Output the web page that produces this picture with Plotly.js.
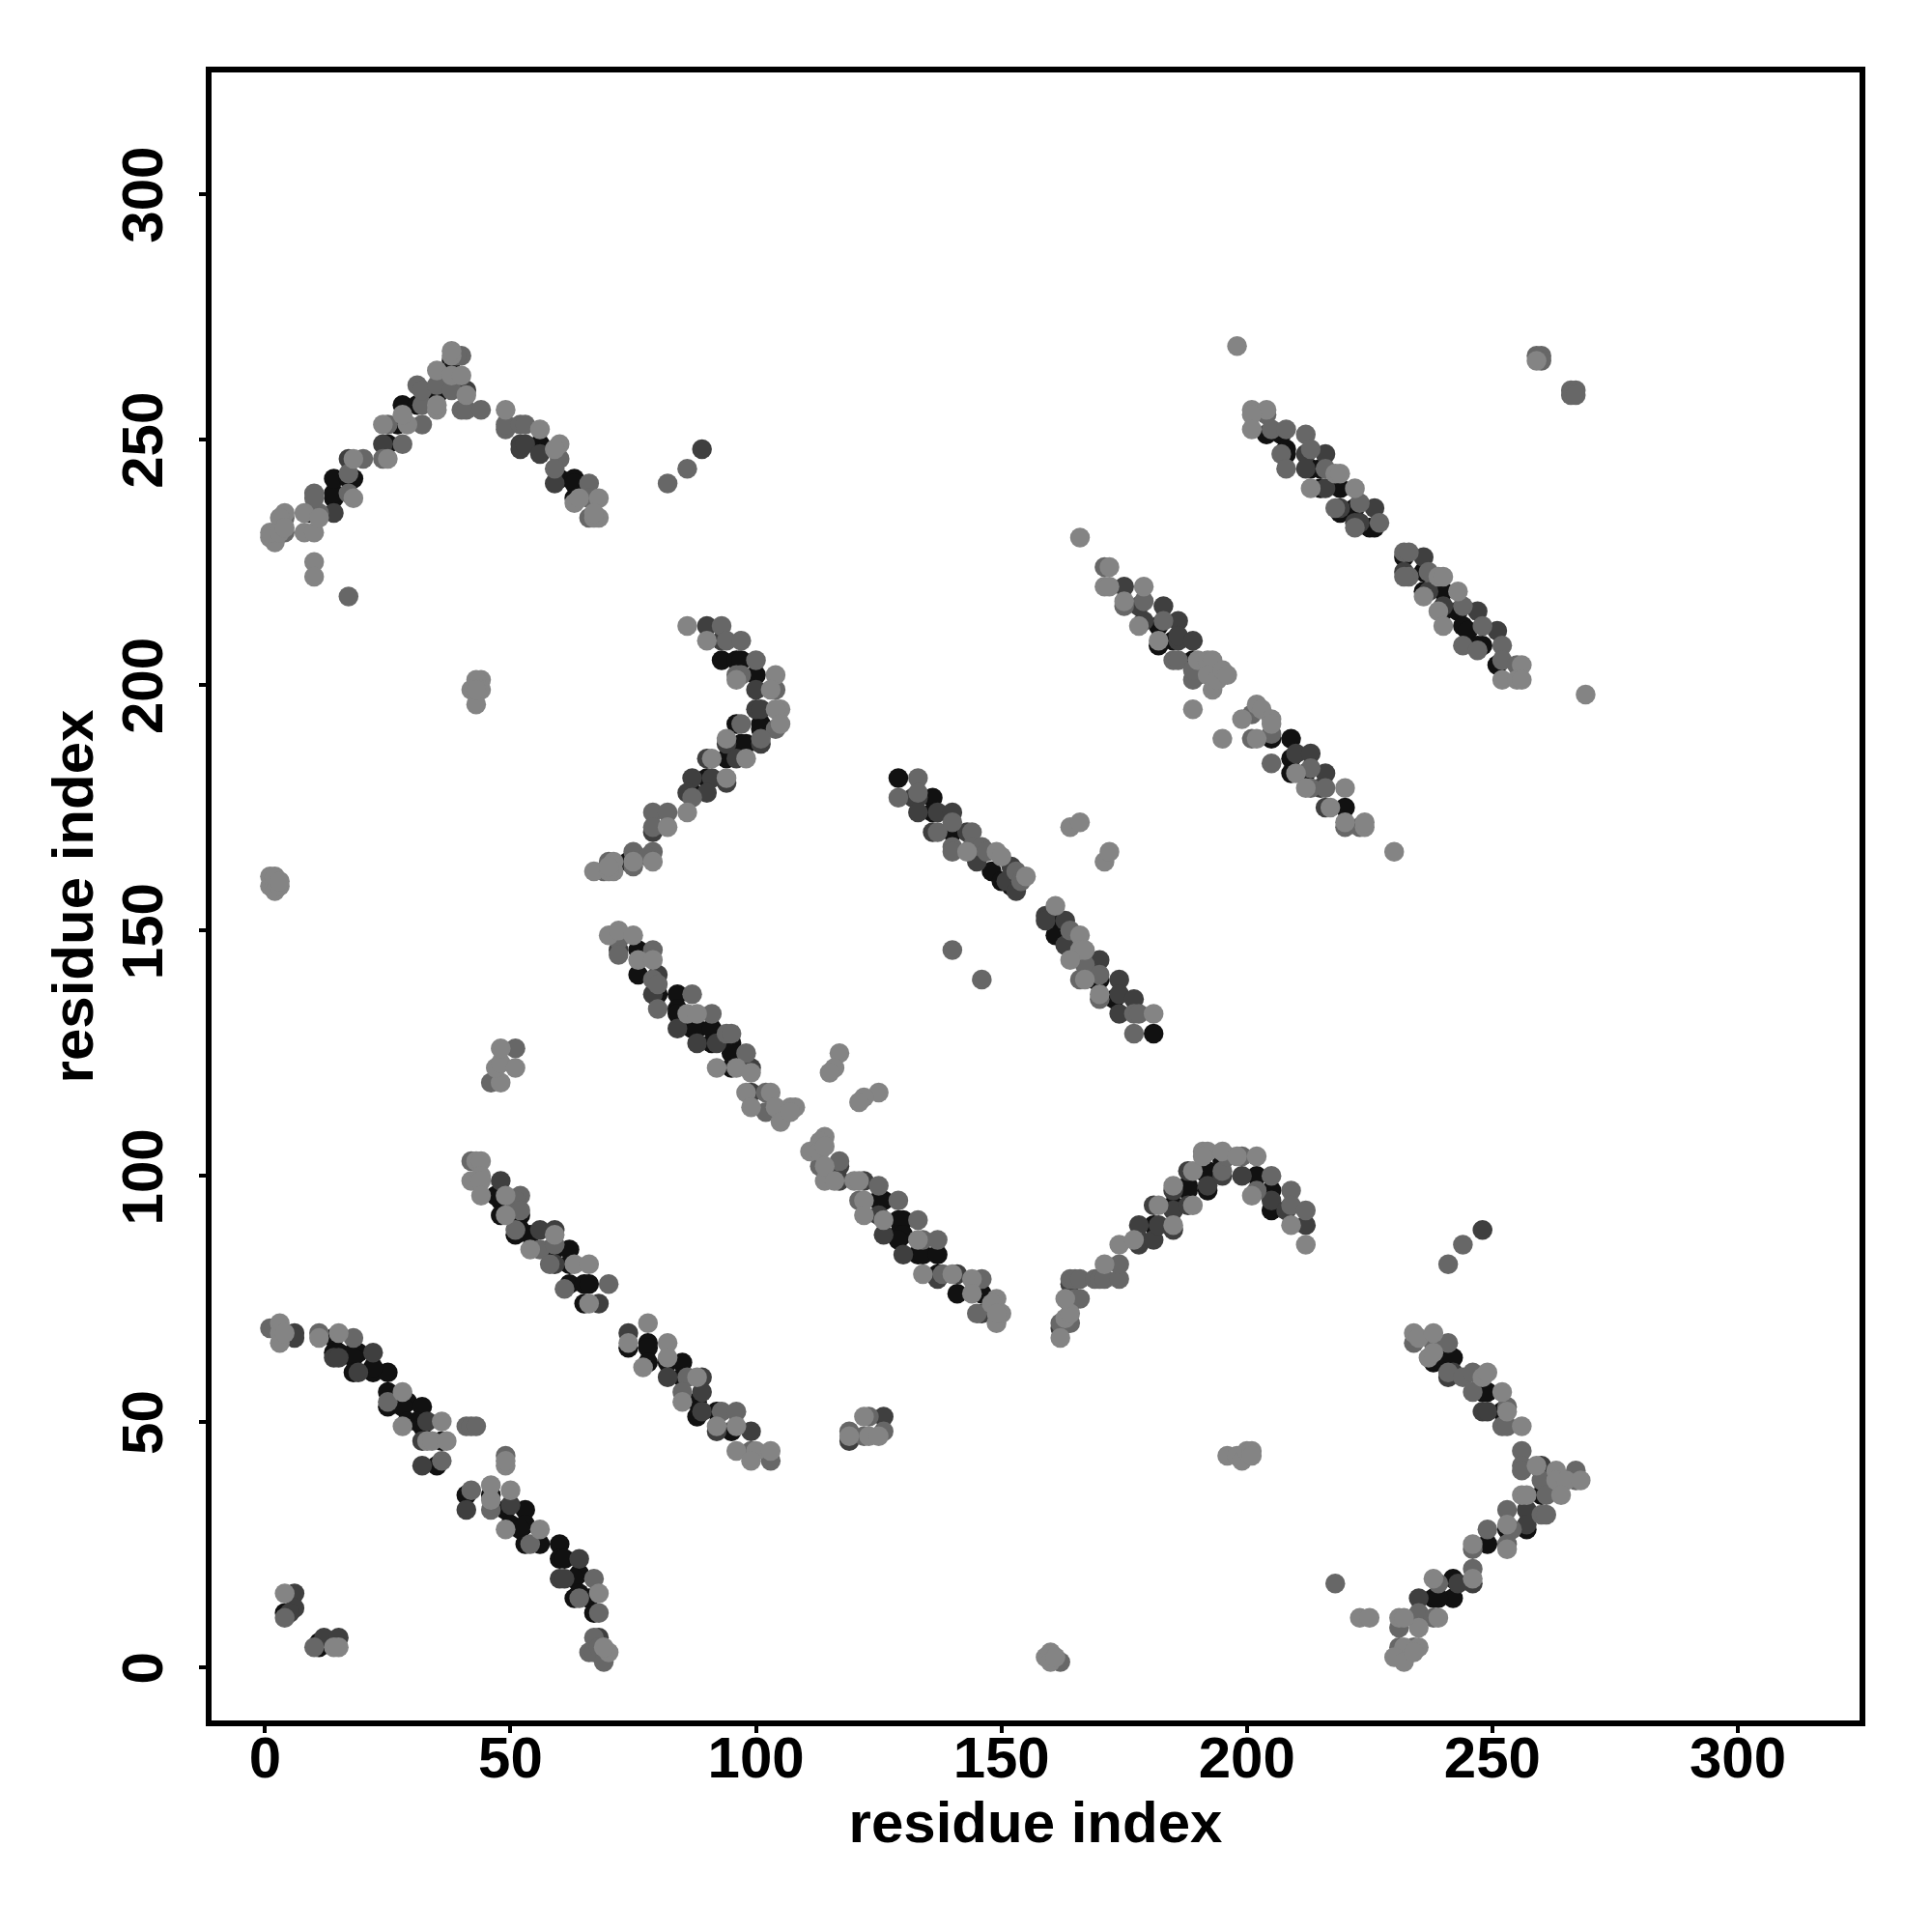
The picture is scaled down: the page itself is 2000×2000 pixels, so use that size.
<!DOCTYPE html>
<html>
<head>
<meta charset="utf-8">
<script src="https://cdn.plot.ly/plotly-3.0.1.min.js"></script>
<style>html,body{margin:0;padding:0;background:#fff}</style>
</head>
<body>
<div id="chart" style="width:2000px;height:2000px"></div>
<script>
// Each entry: [residue i, residue j, level], level 1 (darkest) .. 4 (lightest)
const arcTopLeft = [[1,230,4],[2,229,4],[2,231,4],[1,231,4],[4,235,4],[3,234,4],[4,234,3],[4,231,3],[3,231,4],[4,232,4],[8,235,4],[8,231,4],[10,231,4],[9,235,1],[11,235,3],[10,239,3],[10,238,3],[11,234,4],[14,235,2],[14,238,1],[14,239,1],[14,242,1],[17,242,1],[18,242,1],[18,238,4],[17,239,3],[17,243,3],[17,246,2],[18,246,4],[20,246,3],[10,225,4],[10,222,4],[17,218,3],[24,249,2],[25,249,1],[28,249,3],[24,246,3],[25,246,4],[24,253,4],[25,253,3],[28,257,1],[27,253,1],[29,253,4],[28,255,4],[32,253,3],[32,257,3],[31,257,1],[31,261,3],[32,260,3],[35,256,4],[35,257,4],[35,259,1],[35,261,3],[35,264,4],[38,260,3],[38,263,4],[38,266,1],[38,267,4],[38,268,4],[40,267,3],[39,267,3],[40,263,4],[41,260,2],[41,259,4],[40,256,3],[41,256,3],[44,256,3]];
const arcTopRight = [[49,256,4],[49,252,3],[49,253,3],[52,253,3],[53,253,3],[52,249,2],[52,248,2],[53,249,2],[56,252,4],[56,249,1],[56,247,2],[60,249,4],[59,248,4],[60,246,3],[59,244,3],[59,241,2],[60,242,1],[63,242,1],[63,241,1],[66,241,3],[63,238,1],[63,237,4],[64,238,4],[66,238,3],[68,238,4],[66,234,3],[68,234,4],[67,234,4],[67,235,4]];
const isolatedA = [[82,241,3],[86,244,3],[89,248,2],[44,201,4],[43,201,4],[42,199,4],[44,199,4],[43,196,4],[43,199,4],[1,161,4],[1,159,4],[2,160,4],[2,158,4],[3,159,4],[2,161,4],[3,160,4],[46,119,3],[48,119,4],[47,122,4],[48,123,4],[51,122,4],[48,126,4],[51,126,3]];
const bandLowLeft = [[1,69,3],[3,70,4],[3,68,4],[3,66,4],[4,68,4],[6,68,2],[6,67,2],[11,68,3],[11,67,4],[14,67,1],[15,68,4],[18,67,3],[14,64,1],[14,63,2],[15,64,1],[15,63,2],[18,64,1],[19,64,1],[22,64,2],[18,63,1],[18,60,1],[19,60,2],[22,60,1],[25,60,1],[22,61,1],[25,56,1],[25,53,1],[25,54,3],[28,56,4],[29,54,1],[28,53,1],[28,49,4],[29,50,1],[32,53,1],[31,50,1],[32,49,1],[33,50,2],[36,50,4],[32,46,2],[33,46,4],[34,46,4],[36,46,1],[37,46,4],[32,41,2],[35,41,1],[36,42,3],[41,49,3],[42,49,3],[43,49,3],[49,43,3],[49,41,4],[49,42,4],[41,35,1],[42,36,3],[41,32,2],[46,37,4],[46,35,1],[46,34,4],[46,32,3],[50,36,4],[50,33,2],[49,32,1],[53,32,1],[50,29,1],[49,28,4],[53,29,1],[52,28,1],[56,28,4],[53,25,1],[54,25,3],[56,25,1],[60,25,1],[60,22,1],[61,22,1],[64,22,2],[60,18,2],[61,18,2],[64,19,1],[63,18,1],[67,18,3],[64,15,1],[63,14,1],[68,15,4],[64,14,3],[66,14,1],[68,11,3],[67,11,1],[67,6,3],[68,6,2],[66,3,3],[67,3,3],[68,4,3],[69,1,3],[70,3,4],[69,4,4],[4,15,4],[6,15,2],[4,11,1],[6,12,2],[5,11,2],[4,10,3],[10,4,3],[11,4,1],[11,5,1],[12,6,2],[15,6,2],[14,4,4],[15,4,4]];
const bandMidLow = [[42,103,3],[43,103,4],[44,103,4],[42,99,4],[44,100,4],[44,99,4],[44,96,4],[48,99,2],[48,95,1],[47,96,1],[49,96,4],[52,96,3],[48,92,1],[49,92,4],[51,95,3],[52,93,3],[51,92,1],[52,92,1],[51,88,1],[51,89,3],[52,89,1],[54,88,1],[56,89,2],[59,89,2],[59,88,4],[54,85,4],[56,85,3],[58,85,1],[59,86,3],[59,85,1],[62,85,1],[59,82,2],[58,82,3],[62,82,1],[63,82,4],[66,82,4],[62,78,1],[61,77,3],[65,78,1],[66,78,1],[70,78,3],[65,74,1],[66,74,4],[68,74,2],[78,70,4],[74,68,2],[74,66,4],[74,65,1],[78,66,1],[78,65,1],[78,62,1],[77,61,4],[82,66,4],[82,63,4],[82,62,1],[85,62,1],[82,59,2],[85,59,1],[86,59,3],[88,59,4],[89,59,2],[85,56,3],[85,54,4],[89,56,2],[88,54,1],[89,52,2],[88,51,1],[92,52,1],[93,52,3],[96,52,3],[92,48,2],[92,49,4],[95,48,1],[96,49,4],[99,48,2],[96,44,4],[99,44,3],[100,44,4],[99,42,4],[103,44,4],[103,42,3]];
const isolatedB = [[119,48,3],[119,46,2],[119,47,4],[122,51,4],[122,47,3],[123,51,3],[123,47,4],[126,51,2],[126,48,3],[125,47,4],[140,146,3],[146,140,3],[117,125,4],[116,122,4],[115,121,4],[125,117,4],[122,116,4],[121,115,4]];
const arcCentreLeft = [[86,212,4],[90,212,2],[93,212,3],[90,209,4],[93,209,2],[94,209,3],[97,209,3],[93,205,1],[96,205,1],[97,205,1],[100,205,3],[96,202,3],[96,201,4],[97,202,3],[100,202,1],[100,199,2],[104,202,4],[103,199,4],[104,199,3],[100,195,2],[101,195,2],[105,195,4],[104,195,4],[105,192,4],[104,191,3],[101,192,1],[101,191,1],[101,189,3],[101,188,2],[96,192,1],[97,192,3],[94,189,4],[94,188,2],[97,188,1],[98,188,1],[94,185,1],[98,185,4],[96,185,2],[90,185,2],[91,185,4],[90,181,1],[91,181,2],[94,181,4],[94,180,2],[87,181,2],[86,178,2],[87,178,1],[90,178,2],[87,177,3],[79,174,3],[82,174,3],[86,174,4],[79,171,3],[79,170,2],[82,171,4],[75,166,3],[79,166,3],[78,165,3],[79,164,4],[74,164,1],[75,164,4],[75,163,3],[70,164,3],[71,164,4],[69,162,3],[67,162,4],[71,162,4],[70,162,4],[70,163,4]];
const bandCentre = [[70,149,4],[72,150,4],[72,148,3],[75,149,4],[72,146,2],[72,145,3],[76,146,1],[79,146,3],[76,144,4],[79,144,4],[76,141,1],[79,140,3],[80,141,2],[80,139,3],[79,137,2],[80,137,1],[80,134,3],[84,137,1],[87,137,3],[84,134,1],[84,133,1],[86,133,4],[88,133,4],[91,133,3],[84,130,2],[87,130,1],[88,130,1],[91,130,1],[94,129,3],[95,129,3],[88,127,2],[91,127,1],[92,127,2],[95,127,1],[95,125,1],[98,125,3],[92,122,4],[95,122,1],[96,122,4],[99,122,2],[99,121,4],[98,117,4],[99,117,2],[99,114,4],[102,117,3],[103,117,4],[102,113,3],[104,114,4],[105,111,4],[107,114,4],[108,114,4],[107,113,4],[114,108,4],[113,107,4],[111,105,4],[113,105,4],[114,106,4],[113,102,3],[117,103,3],[117,102,2],[114,99,4],[117,99,2],[114,102,4],[116,99,4],[120,99,4],[121,99,4],[122,99,2],[125,98,3],[122,95,4],[121,95,3],[126,95,1],[125,95,1],[129,95,3],[122,92,4],[125,92,2],[126,91,4],[129,91,1],[130,91,1],[133,91,3],[126,88,2],[129,88,1],[130,88,1],[129,87,1],[133,87,4],[134,87,3],[137,87,3],[130,84,2],[133,84,1],[134,84,1],[137,84,1],[134,80,4],[137,80,1],[138,80,3],[137,79,2],[140,80,4],[141,80,2],[141,76,1],[144,79,4],[146,79,3],[144,76,4],[146,76,1],[145,72,3],[146,72,2],[149,75,4],[148,74,4],[149,70,4],[150,72,4],[149,72,4]];
const bandUpperMid = [[129,181,1],[133,181,3],[129,177,3],[133,178,3],[132,177,2],[133,177,2],[136,177,1],[133,174,2],[136,174,1],[137,174,2],[140,174,2],[136,170,2],[137,170,3],[140,172,3],[140,170,1],[140,167,3],[140,166,3],[143,170,2],[144,170,3],[143,166,4],[144,167,3],[145,164,2],[146,167,3],[147,166,3],[149,166,4],[148,162,1],[150,165,4],[150,160,1],[152,163,2],[153,162,3],[151,160,2],[152,159,1],[153,158,2],[154,160,3],[155,161,4],[161,155,4],[159,153,2],[160,152,1],[163,152,2],[159,152,2],[161,149,1],[164,150,3],[166,149,4],[163,147,2],[166,146,4],[167,146,4],[164,144,4],[167,143,3],[170,144,2],[166,140,3],[167,140,4],[170,140,1],[169,140,1],[170,141,3],[174,140,2],[170,136,3],[170,137,4],[173,136,1],[174,137,2],[177,136,2],[174,133,2],[177,133,3],[178,133,3],[181,133,4],[177,129,3],[181,129,1]];
const isolatedC = [[164,171,4],[166,172,4],[171,164,4],[172,166,4],[189,195,4],[195,189,4],[166,230,4],[198,269,4],[269,198,4],[259,267,3],[260,267,3],[259,266,4],[260,266,3],[266,260,3],[267,260,3],[266,259,3],[267,259,3],[230,166,4],[241,82,3],[244,86,3],[248,89,2],[218,17,3],[223,10,4],[225,10,4],[196,43,4],[198,43,4],[199,42,4],[200,44,4],[201,44,4],[201,43,4],[159,2,4],[160,3,4],[160,1,4],[162,1,3],[161,2,4],[160,2,3]];
const arcCentreRight = [[162,67,4],[162,69,2],[162,70,3],[163,71,4],[164,72,4],[164,70,3],[163,75,4],[164,74,1],[165,75,3],[166,75,3],[164,79,3],[165,79,3],[166,79,3],[164,78,2],[169,79,3],[170,79,3],[171,79,3],[174,79,3],[171,82,4],[174,82,3],[174,86,4],[177,87,4],[178,87,2],[178,86,2],[181,87,2],[178,90,2],[181,90,1],[182,90,2],[185,90,4],[185,89,2],[181,94,2],[182,94,4],[185,94,1],[185,93,2],[185,98,4],[185,97,2],[188,98,1],[188,97,1],[189,94,4],[188,94,2],[188,101,2],[189,101,4],[192,101,1],[191,101,1],[192,97,1],[192,98,2],[195,101,3],[195,100,2],[191,105,4],[192,105,4],[191,104,4],[195,105,4],[196,104,3],[195,103,1],[198,104,4],[199,104,3],[202,104,4],[199,100,2],[202,100,1],[205,100,3],[202,97,3],[201,96,4],[205,97,1],[205,95,2],[205,93,1],[209,97,3],[208,93,2],[209,94,3],[212,93,3],[212,90,2],[209,90,4],[212,86,4]];
const bandUpperRightA = [[171,224,3],[172,224,4],[171,220,4],[172,220,4],[175,220,2],[179,220,4],[175,217,4],[175,216,3],[178,216,2],[179,217,3],[183,216,2],[178,212,4],[179,213,2],[182,212,1],[183,213,3],[186,213,2],[182,209,4],[182,208,1],[185,209,1],[186,209,2],[186,210,2],[189,209,2],[185,205,3],[186,205,3],[189,205,1],[190,205,4],[192,205,4],[193,205,4],[189,201,3],[189,203,3],[190,202,2],[192,202,4],[193,199,4],[194,201,4],[195,203,4],[196,202,4],[194,202,3],[202,196,4],[199,193,4],[201,194,3],[203,195,4],[205,193,4],[201,189,3],[202,189,4],[205,192,4],[205,189,1],[205,190,3],[205,184,3],[209,189,1],[209,185,1],[210,186,2],[209,182,1],[210,182,4],[212,182,1],[213,186,2],[213,183,3],[212,179,4],[213,179,3],[216,182,2],[215,179,2],[216,179,3],[220,179,4],[216,175,2],[217,175,4],[220,175,1],[220,171,3],[220,172,4],[223,171,3],[224,171,4],[224,172,4]];
const bandUpperRightB = [[201,256,4],[204,256,4],[201,255,4],[204,255,3],[201,252,4],[204,251,1],[205,252,3],[208,252,3],[207,251,1],[212,251,3],[208,248,1],[208,247,1],[207,247,3],[213,248,3],[212,247,2],[208,244,3],[212,244,2],[213,244,1],[216,247,2],[213,240,4],[215,244,1],[216,244,3],[215,240,1],[216,240,2],[218,243,4],[219,243,4],[219,240,1],[222,240,4],[218,236,3],[219,236,2],[219,235,1],[222,236,1],[223,237,3],[226,236,2],[222,233,2],[223,233,2],[222,232,3],[225,232,1],[227,233,3],[226,232,1],[232,227,3],[233,227,3],[232,226,1],[236,226,2],[232,223,2],[233,222,3],[232,222,3],[236,223,1],[237,223,3],[239,222,4],[240,222,4],[236,219,1],[237,219,2],[240,219,1],[236,218,4],[239,215,4],[240,215,1],[240,216,2],[243,219,4],[243,215,1],[244,216,3],[247,215,2],[240,212,4],[244,212,1],[245,211,1],[248,212,3],[251,211,2],[244,208,3],[247,208,1],[248,208,1],[247,207,3],[252,208,3],[251,204,1],[252,205,3],[252,201,4],[255,204,3],[256,204,4],[255,201,4],[256,201,4]];
const arcLowRight = [[234,68,4],[234,66,3],[235,67,4],[238,68,4],[238,66,3],[241,66,3],[237,63,4],[238,64,4],[238,62,1],[241,63,1],[242,63,1],[241,59,2],[242,60,2],[241,60,3],[244,59,3],[246,60,3],[248,59,4],[249,60,4],[246,56,3],[248,56,1],[249,56,1],[252,56,4],[248,52,2],[249,52,2],[252,52,1],[253,53,3],[253,52,4],[252,49,3],[253,49,3],[256,49,4],[256,44,3],[256,41,3],[256,40,3],[259,41,4],[260,41,2],[260,40,2],[260,38,3],[263,40,4],[264,38,3],[263,38,4],[267,40,3],[265,38,4],[268,38,4],[267,38,3],[264,35,4],[256,35,4],[257,35,4],[260,35,1],[261,35,3],[260,31,3],[261,31,3],[253,32,3],[257,32,2],[257,28,1],[257,29,2],[253,29,4],[254,28,3],[253,28,1],[253,25,3],[249,28,3],[249,25,1],[246,25,4],[246,24,3],[253,24,4],[246,20,3],[246,18,4],[246,17,2],[242,18,1],[243,17,2],[238,18,4],[239,17,3],[242,14,1],[238,14,1],[239,14,1],[235,14,2],[235,11,3],[235,10,1],[239,10,4],[238,10,3],[235,8,4],[231,10,4],[231,8,3],[232,10,4],[231,4,3],[232,4,4],[234,4,3],[235,4,4],[230,2,4],[231,2,3],[232,1,4],[234,3,4]];

const tickValues = [0, 50, 100, 150, 200, 250, 300];
const axisLabel = 'residue index';

const allContacts = [].concat(arcTopLeft, arcTopRight, isolatedA, bandLowLeft, bandMidLow, isolatedB,
  arcCentreLeft, bandCentre, bandUpperMid, isolatedC, arcCentreRight, bandUpperRightA, bandUpperRightB, arcLowRight)
  .slice().sort((a, b) => a[2] - b[2]);
const levelColor = {1: '#111111', 2: '#3f3f3f', 3: '#676767', 4: '#848484'};
const font = 'Liberation Sans, Arial, sans-serif';

function axis(range, off) {
  return {
    range: range, tickmode: 'array', tickvals: tickValues, ticktext: tickValues.map(String),
    ticks: 'outside', ticklen: 7, tickwidth: 4, tickcolor: '#000',
    showgrid: false, zeroline: false, showline: true, mirror: true, linecolor: '#000', linewidth: 6,
    ticklabelstandoff: off,
    tickfont: {family: font, size: 60, color: '#000', weight: 700}
  };
}
const xaxis = axis([-10.9, 324.8], -26);
xaxis.title = {text: axisLabel, font: {family: font, size: 60, color: '#000', weight: 700}, standoff: 8};
const yaxis = axis([-10.88, 324.7], 14);
yaxis.tickangle = -90;
yaxis.ticklabelshift = 10;
yaxis.title = {text: axisLabel, font: {family: font, size: 60, color: '#000', weight: 700}, standoff: 0};

Plotly.newPlot('chart', [{
  type: 'scatter', mode: 'markers',
  x: allContacts.map(p => p[0]),
  y: allContacts.map(p => p[1]),
  marker: {size: 20.5, color: allContacts.map(p => levelColor[p[2]]), line: {width: 0}},
  hoverinfo: 'x+y'
}], {
  width: 2000, height: 2000,
  margin: {l: 218.5, r: 75, t: 75.2, b: 219, pad: 0},
  paper_bgcolor: '#fff', plot_bgcolor: '#fff',
  showlegend: false, xaxis: xaxis, yaxis: yaxis
}, {displayModeBar: false, staticPlot: true});
</script>
</body>
</html>
